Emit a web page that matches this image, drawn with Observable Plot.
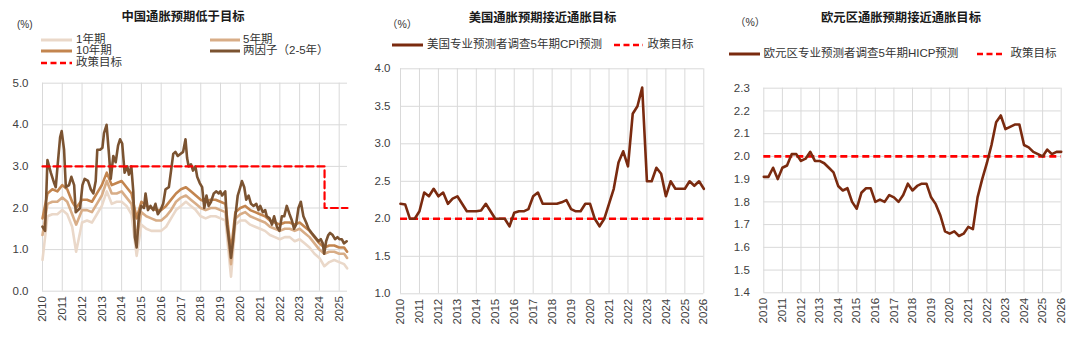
<!DOCTYPE html>
<html><head><meta charset="utf-8">
<script src="https://cdn.jsdelivr.net/npm/d3@7"></script>
<script src="https://cdn.jsdelivr.net/npm/@observablehq/plot@0.6"></script>
<style>
body{margin:0;background:#fff;}
#wrap{position:relative;width:1080px;height:337px;overflow:hidden;font-family:"Liberation Sans",Arial,"Noto Sans CJK SC",sans-serif;color:#333;}
.t{position:absolute;white-space:nowrap;line-height:1;}
.p{position:absolute;top:0;}
</style></head><body><div id="wrap"></div>
<script>
// ---------------- DATA ----------------
// Panel 1: China inflation expectations (roughly quarterly, decimal years)
const cnQuarter = [
 2010.00,2010.25,2010.50,2010.75, 2011.00,2011.25,2011.50,2011.70, 2012.00,2012.25,2012.50,2012.75,
 2013.00,2013.25,2013.50,2013.75, 2014.00,2014.25,2014.50,2014.76, 2015.00,2015.25,2015.50,2015.75,
 2016.00,2016.25,2016.50,2016.75, 2017.00,2017.25,2017.50,2017.75, 2018.00,2018.25,2018.50,2018.75,
 2019.00,2019.25,2019.53,2019.75, 2020.00,2020.25,2020.50,2020.75, 2021.00,2021.25,2021.50,2021.75,
 2022.00,2022.25,2022.50,2022.75, 2023.00,2023.25,2023.50,2023.75, 2024.00,2024.25,2024.50,2024.75,
 2025.00,2025.25,2025.40];
const cn10y = [
 1.75,2.35,2.45,2.40, 2.55,2.45,2.15,2.00, 2.20,2.20,2.15,2.35, 2.55,2.85,2.55,2.60,
 2.65,2.50,2.35,1.75, 2.15,2.05,2.00,1.95, 1.95,2.05,2.20,2.35, 2.45,2.50,2.40,2.30,
 2.20,2.15,2.20,2.20, 2.15,2.10,0.95,1.90, 2.00,2.05,1.95,1.90, 1.85,1.80,1.70,1.65,
 1.60,1.65,1.65,1.60, 1.65,1.55,1.45,1.30, 1.15,1.05,1.10,1.10, 1.05,1.05,0.95];
const cn5y = [
 1.35,2.10,2.15,2.15, 2.25,2.15,1.85,1.60, 1.95,1.95,1.90,2.10, 2.30,2.65,2.35,2.35,
 2.40,2.25,2.10,1.30, 1.90,1.80,1.75,1.70, 1.70,1.80,1.95,2.15, 2.25,2.30,2.20,2.10,
 2.00,1.95,2.00,2.00, 1.95,1.90,0.65,1.75, 1.85,1.90,1.80,1.75, 1.70,1.65,1.55,1.50,
 1.45,1.50,1.50,1.45, 1.50,1.40,1.30,1.15, 1.00,0.90,0.95,0.95, 0.90,0.90,0.80];
const cn1y = [
 0.75,1.80,1.85,1.85, 1.95,1.85,1.55,0.95, 1.65,1.70,1.65,1.85, 2.05,2.40,2.10,2.15,
 2.15,2.05,1.85,0.85, 1.60,1.50,1.45,1.45, 1.45,1.55,1.75,1.95, 2.05,2.15,2.05,1.95,
 1.80,1.75,1.80,1.80, 1.75,1.70,0.35,1.60, 1.70,1.70,1.60,1.55, 1.50,1.45,1.35,1.30,
 1.25,1.30,1.30,1.20, 1.25,1.15,1.05,0.90, 0.80,0.60,0.70,0.75, 0.70,0.65,0.55];
// two-factor (2-5y) model, irregular sample of turning points
const cn2fDate = [
 2010.00,2010.13,2010.25,2010.42,2010.59,2010.67,2010.76,2010.89,2010.97,2011.09,2011.18,2011.34,2011.46,2011.60,2011.68,2011.80,2011.90,
 2012.02,2012.13,2012.30,2012.44,2012.57,2012.69,2012.77,2012.91,2013.03,2013.11,2013.24,2013.36,2013.45,2013.58,2013.70,2013.82,2013.92,
 2014.03,2014.15,2014.29,2014.37,2014.49,2014.59,2014.67,2014.76,2014.87,2014.99,2015.13,2015.21,2015.33,2015.46,2015.60,2015.71,2015.83,2015.97,
 2016.10,2016.22,2016.39,2016.50,2016.61,2016.72,2016.84,2016.97,2017.11,2017.23,2017.31,2017.39,2017.51,2017.61,2017.73,2017.82,2017.95,
 2018.07,2018.18,2018.29,2018.40,2018.52,2018.66,2018.79,2018.91,2018.99,2019.08,2019.24,2019.33,2019.46,2019.53,2019.63,2019.75,2019.87,
 2020.00,2020.08,2020.20,2020.30,2020.42,2020.54,2020.67,2020.81,2020.92,2021.01,2021.14,2021.26,2021.34,2021.48,2021.60,2021.71,2021.85,2021.98,
 2022.10,2022.22,2022.35,2022.49,2022.61,2022.72,2022.82,2022.94,2023.06,2023.19,2023.33,2023.45,2023.61,2023.78,2023.95,
 2024.07,2024.17,2024.24,2024.34,2024.45,2024.54,2024.67,2024.79,2024.91,2025.01,2025.13,2025.24,2025.38];
const cn2f = [
 1.55,1.45,3.15,2.85,2.60,2.50,3.00,3.70,3.85,3.40,2.50,2.55,2.75,2.55,1.90,1.95,2.00,
 2.55,2.70,2.65,2.45,2.35,2.65,3.40,3.40,3.45,3.80,4.00,3.30,2.70,3.25,3.10,3.50,3.65,
 3.55,2.85,3.00,2.80,3.00,2.40,1.30,1.05,1.80,2.05,2.00,2.35,1.95,2.05,1.95,2.10,1.85,1.95,
 2.10,2.45,2.50,2.90,3.30,3.35,3.25,3.30,3.35,3.65,3.20,3.00,3.05,2.90,3.00,2.75,2.60,
 2.50,2.00,2.30,2.05,2.15,2.35,2.40,2.35,2.40,2.30,2.40,1.60,1.10,0.80,1.20,1.80,2.30,
 2.50,2.65,2.50,2.20,2.30,2.10,2.05,2.10,1.95,2.05,1.90,1.95,1.80,1.75,1.60,1.80,1.55,1.45,
 1.80,1.80,2.05,1.85,1.70,1.50,1.60,2.00,2.15,1.80,1.65,1.50,1.40,1.30,1.20,
 1.25,1.15,0.90,1.20,1.35,1.40,1.35,1.25,1.30,1.25,1.25,1.15,1.20];
const cnTargetDate = [2010.00, 2024.26, 2024.26, 2025.42];
const cnTarget = [3.0, 3.0, 2.0, 2.0];
const cnYears = [2010,2011,2012,2013,2014,2015,2016,2017,2018,2019,2020,2021,2022,2023,2024,2025];
const cnYTicks = [0,1,2,3,4,5];

// Panel 2: US SPF 5-year CPI forecast (quarterly)
const usQuarter = [
 2010.00,2010.25,2010.50,2010.75, 2011.00,2011.25,2011.50,2011.75, 2012.00,2012.25,2012.50,2012.75,
 2013.00,2013.25,2013.50,2013.75, 2014.00,2014.25,2014.50,2014.75, 2015.00,2015.25,2015.50,2015.75,
 2016.00,2016.25,2016.50,2016.75, 2017.00,2017.25,2017.50,2017.75, 2018.00,2018.25,2018.50,2018.75,
 2019.00,2019.25,2019.50,2019.75, 2020.00,2020.25,2020.50,2020.75, 2021.00,2021.25,2021.50,2021.75,
 2022.00,2022.25,2022.50,2022.75, 2023.00,2023.25,2023.50,2023.75, 2024.00,2024.25,2024.50,2024.75,
 2025.00,2025.25,2025.50,2025.75, 2026.00];
const usCPI = [
 2.20,2.19,2.00,2.00, 2.10,2.35,2.30,2.40, 2.30,2.35,2.20,2.27, 2.30,2.20,2.10,2.10,
 2.10,2.11,2.20,2.10, 2.00,2.00,2.00,1.90, 2.08,2.10,2.10,2.13, 2.30,2.35,2.20,2.20,
 2.20,2.20,2.22,2.25, 2.13,2.10,2.10,2.20, 2.20,2.00,1.90,2.00, 2.20,2.40,2.75,2.90,
 2.70,3.40,3.50,3.75, 2.50,2.50,2.68,2.60, 2.30,2.50,2.40,2.40, 2.40,2.50,2.44,2.50, 2.40];
const usTarget = 2.0;
const usYears = [2010,2011,2012,2013,2014,2015,2016,2017,2018,2019,2020,2021,2022,2023,2024,2025,2026];
const usYTicks = [1.0,1.5,2.0,2.5,3.0,3.5,4.0];

// Panel 3: Euro area SPF 5-year HICP forecast (quarterly)
const euQuarter = usQuarter;
const euHICP = [
 1.91,1.91,1.95,1.90, 1.95,1.96,2.01,2.01, 1.98,1.99,2.02,1.98, 1.98,1.97,1.95,1.93,
 1.87,1.85,1.86,1.80, 1.77,1.84,1.86,1.86, 1.80,1.81,1.80,1.83, 1.82,1.80,1.83,1.88,
 1.85,1.87,1.88,1.88, 1.82,1.79,1.74,1.67, 1.66,1.67,1.65,1.66, 1.69,1.68,1.82,1.90,
 1.97,2.05,2.15,2.18, 2.12,2.13,2.14,2.14, 2.05,2.04,2.02,2.01, 2.00,2.03,2.01,2.02, 2.02];
const euTarget = 2.0;
const euYears = usYears;
const euYTicks = [1.4,1.5,1.6,1.7,1.8,1.9,2.0,2.1,2.2,2.3];

// ---------------- STYLE ----------------
const FONT = '"Liberation Sans", Arial, "Noto Sans CJK SC", sans-serif';
const GRID = "#d9d9d9";
const RED = "#ff0000";
const DASH = "7,4";
const C1 = "#ead8c9", C5 = "#d8ad87", C10 = "#c3854f", C2F = "#7b5331";
const MAROON = "#7a2a0f";

const wrap = document.getElementById("wrap");

function frame(opts) {
  return Plot.plot({
    width: 360, height: 337,
    marginLeft: opts.ml, marginRight: opts.mr, marginTop: opts.mt, marginBottom: opts.mb,
    x: {domain: opts.xd, label: null},
    y: {domain: opts.yd, label: null},
    style: {fontFamily: FONT, fontSize: "11.5px", color: "#404040", background: "transparent", overflow: "visible"},
    marks: [
      Plot.gridX(opts.xt, {stroke: GRID, strokeOpacity: 1, strokeWidth: 1}),
      Plot.gridY(opts.yt, {stroke: GRID, strokeOpacity: 1, strokeWidth: 1}),
      Plot.axisX(opts.xt, {tickRotate: -90, tickSize: 0, tickPadding: 5, tickFormat: d => String(d), label: null}),
      Plot.axisY(opts.yt, {tickSize: 0, tickPadding: opts.yp, tickFormat: d => d.toFixed(1), label: null}),
      ...opts.marks
    ]
  });
}

function place(svg, left) {
  const d = document.createElement("div");
  d.className = "p"; d.style.left = left + "px";
  d.appendChild(svg); wrap.appendChild(d);
}

function text(s, x, y, o = {}) {
  const d = document.createElement("div");
  d.className = "t"; d.textContent = s;
  d.style.left = x + "px"; d.style.top = y + "px";
  d.style.fontSize = (o.size || 11.5) + "px";
  if (o.bold) d.style.fontWeight = "bold";
  d.style.color = o.color || "#333";
  d.style.transform = o.center ? "translate(-50%,-50%)" : "translateY(-50%)";
  wrap.appendChild(d);
}

function swatch(x1, x2, y, color, dashed) {
  const ns = "http://www.w3.org/2000/svg";
  const s = document.createElementNS(ns, "svg");
  s.setAttribute("width", x2 - x1); s.setAttribute("height", 6);
  s.style.position = "absolute"; s.style.left = x1 + "px"; s.style.top = (y - 3) + "px";
  const l = document.createElementNS(ns, "line");
  l.setAttribute("x1", 0); l.setAttribute("x2", x2 - x1); l.setAttribute("y1", 3); l.setAttribute("y2", 3);
  l.setAttribute("stroke", color); l.setAttribute("stroke-width", dashed ? 2.5 : 3);
  if (dashed) l.setAttribute("stroke-dasharray", "6,3.5");
  s.appendChild(l); wrap.appendChild(s);
}

// ---------------- PANEL 1 ----------------
place(frame({
  ml: 42, mr: 13, mt: 82.7, mb: 46.3, xd: [2010, 2025.42], yd: [0, 5], xt: cnYears, yt: cnYTicks, yp: 14,
  marks: [
    Plot.lineY(cn1y, {x: cnQuarter, stroke: C1, strokeWidth: 2.6}),
    Plot.lineY(cn5y, {x: cnQuarter, stroke: C5, strokeWidth: 2.6}),
    Plot.lineY(cn10y, {x: cnQuarter, stroke: C10, strokeWidth: 2.6}),
    Plot.lineY(cn2f, {x: cn2fDate, stroke: C2F, strokeWidth: 2.6}),
    Plot.lineY(cnTarget, {x: cnTargetDate, stroke: RED, strokeWidth: 2.2, strokeDasharray: DASH})
  ]
}), 0);

// ---------------- PANEL 2 ----------------
place(frame({
  ml: 40, mr: 16.7, mt: 68.3, mb: 43.7, xd: [2010, 2026], yd: [1, 4], xt: usYears, yt: usYTicks, yp: 10,
  marks: [
    Plot.ruleY([usTarget], {stroke: RED, strokeWidth: 2.6, strokeDasharray: DASH}),
    Plot.lineY(usCPI, {x: usQuarter, stroke: MAROON, strokeWidth: 2.6})
  ]
}), 360);

// ---------------- PANEL 3 ----------------
place(frame({
  ml: 43.3, mr: 19.3, mt: 87.7, mb: 44.7, xd: [2010, 2026], yd: [1.4, 2.3], xt: euYears, yt: euYTicks, yp: 14,
  marks: [
    Plot.ruleY([euTarget], {stroke: RED, strokeWidth: 2.6, strokeDasharray: DASH}),
    Plot.lineY(euHICP, {x: euQuarter, stroke: MAROON, strokeWidth: 2.6})
  ]
}), 720);

// ---------------- TITLES / LEGENDS ----------------
text("中国通胀预期低于目标", 183, 17, {bold: true, center: true, size: 12.3, color: "#1a1a1a"});
text("(%)", 17, 25, {size: 10});
swatch(41, 72, 39.5, C1); text("1年期", 76, 39.5);
swatch(210, 240, 39.5, C5); text("5年期", 243, 39.5);
swatch(41, 72, 51, C10); text("10年期", 76, 51);
swatch(210, 240, 51, C2F); text("两因子（2-5年）", 243, 51);
swatch(41, 72, 62.5, RED, true); text("政策目标", 76, 62.5);

text("美国通胀预期接近通胀目标", 542.5, 17.5, {bold: true, center: true, size: 12.3, color: "#1a1a1a"});
text("（%）", 387, 24, {size: 10.5});
swatch(392, 423, 45, MAROON); text("美国专业预测者调查5年期CPI预测", 427, 45);
swatch(614, 643, 45, RED, true); text("政策目标", 647.5, 45);

text("欧元区通胀预期接近通胀目标", 901, 17.5, {bold: true, center: true, size: 12.3, color: "#1a1a1a"});
text("（%）", 735, 22, {size: 10.5});
swatch(729, 760, 53.5, MAROON); text("欧元区专业预测者调查5年期HICP预测", 763.5, 53.5);
swatch(977, 1005, 53.5, RED, true); text("政策目标", 1010.5, 53.5);
</script>
</body></html>
